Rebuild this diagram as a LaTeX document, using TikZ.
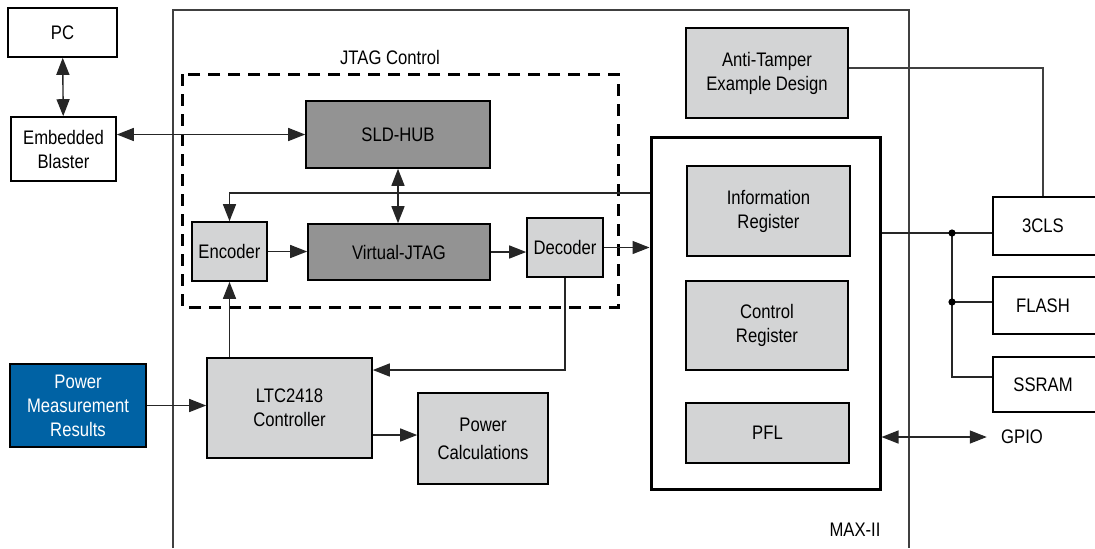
\documentclass[tikz,border=0pt]{standalone}
\usepackage{fontspec}
\setmainfont{Liberation Sans}[FakeStretch=0.85]
\usepackage{tikz}
\usetikzlibrary{arrows.meta}
\definecolor{lightbox}{HTML}{D3D4D5}
\definecolor{darkbox}{HTML}{939393}
\definecolor{pmblue}{HTML}{0062A4}

\begin{document}
\begin{tikzpicture}
[x=0.5pt,y=-0.5pt,>={Triangle[length=8.5pt,width=6.5pt]},
every node/.style={font=\fontsize{9.8}{12}\selectfont,align=center,inner sep=0pt},
box/.style={draw,line width=0.8pt},
lgray/.style={box,fill=lightbox},
dgray/.style={box,fill=darkbox},
conn/.style={line width=0.7pt,draw=black!85}]
\useasboundingbox (0,0) rectangle (1095,548);
% outer device and JTAG region
\draw[line width=0.7pt,black!75] (173,548) |- (909,10) -- (909,548);
\draw[line width=1.5pt,dash pattern=on 6pt off 4pt] (182,74) rectangle (618,307);
\node (jtag) at (390,57) {JTAG Control};
\node (max) at (855,530) {MAX-II};
\node[box,minimum width=54.5pt,minimum height=24.5pt] (pc) at (62.5,32.5) {PC};
\node[box,minimum width=52.5pt,minimum height=32pt] (eb) at (63.5,149) {Embedded\\Blaster};
\node[dgray,minimum width=92pt,minimum height=33.5pt] (sld) at (398,134.5) {SLD-HUB};
\node[dgray,minimum width=91pt,minimum height=28pt] (vj) at (399,252) {Virtual-JTAG};
\node[lgray,minimum width=37.5pt,minimum height=29.5pt] (enc) at (229.5,251.5) {Encoder};
\node[lgray,minimum width=38pt,minimum height=29.5pt] (dec) at (565,247.5) {Decoder};
\node[lgray,minimum width=82.5pt,minimum height=50pt] (ltc) at (289.5,408) {LTC2418\\Controller};
\node[box,fill=pmblue,text=white,minimum width=68pt,minimum height=41.5pt] (pmr) at (78,405.5) {Power\\Measurement\\Results};
\node[lgray,minimum width=65pt,minimum height=45.5pt] (calc) at (483,438.5) {Power\\[2pt]Calculations};
\node[lgray,minimum width=81pt,minimum height=45pt] (at) at (767,73) {Anti-Tamper\\Example Design};
\node[draw,line width=1.5pt,minimum width=114.5pt,minimum height=176pt] (reg) at (765.5,313) {};
\node[lgray,minimum width=81.5pt,minimum height=45pt] (info) at (768.5,211) {Information\\Register};
\node[lgray,minimum width=81pt,minimum height=44.5pt] (ctrl) at (767,325.5) {Control\\Register};
\node[lgray,minimum width=81.5pt,minimum height=30pt] (pfl) at (767.5,433) {PFL};
\node[box,line width=0.7pt,minimum width=61pt,minimum height=29pt] (cls) at (1054,226) {3CLS\hspace*{11pt}};
\node[box,line width=0.7pt,minimum width=61pt,minimum height=28.5pt] (flash) at (1054,305.5) {FLASH\hspace*{11pt}};
\node[box,line width=0.7pt,minimum width=61pt,minimum height=27.5pt] (ssram) at (1054,384.5) {SSRAM\hspace*{11pt}};
\node (gpio) at (1022,437) {GPIO};
\coordinate (t) at (228,193);
\coordinate (j1) at (952,233);
\coordinate (j2) at (952,302);
\coordinate (j3) at (952,377);
\draw[conn,<->] (pc) -- (eb);
\draw[conn,<->] (eb.east |- sld) -- (sld.west);
\draw[conn,<->] (sld.south) -- (sld.south |- vj.north);
\draw[conn,->] (enc.east) -- (vj.west |- enc.east);
\draw[conn,->] (vj.east) -- (dec.west |- vj.east);
\draw[conn,->] (dec.east) -- (dec.east -| reg.west);
\draw[conn,->] (reg.west |- t) -| (enc.north);
\draw[conn,->] (dec.south) |- ([yshift=19pt]ltc.east);
\draw[conn,->] (enc.south |- ltc.north) -- (enc.south);
\draw[conn,->] (pmr.east) -- (ltc.west |- pmr.east);
\draw[conn,->] ([yshift=-13.5pt]ltc.east) -- ([yshift=-13.5pt]ltc.east -| calc.west);
\draw[conn,black!75] ([yshift=2.5pt]at.east) -| ([xshift=-5.5pt]cls.north);
\draw[conn] (reg.east |- j1) -- (cls.west |- j1);
\draw[conn] (j1) -- (j3) -- (ssram.west |- j3);
\draw[conn] (j2) -- (flash.west |- j2);
\fill (j1) circle (1.8pt) (j2) circle (1.8pt);
\draw[conn,<->] (reg.east |- gpio) -- ([xshift=-7pt]gpio.west);
\end{tikzpicture}
\end{document}
